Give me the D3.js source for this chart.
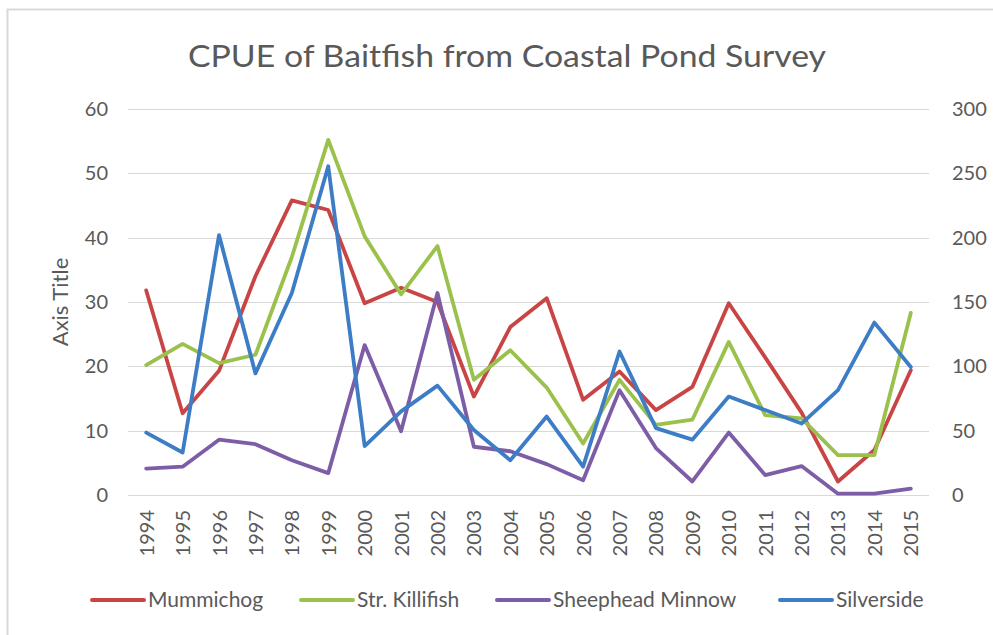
<!DOCTYPE html>
<html>
<head>
<meta charset="utf-8">
<script src="https://cdn.jsdelivr.net/npm/d3@7"></script>
<style>
  html, body { margin: 0; padding: 0; background: #fff; }
  svg { display: block; }
  text { font-family: Lato, "Open Sans", sans-serif; fill: #595959; }
</style>
</head>
<body>
<svg id="chart" width="993" height="635"></svg>
<script>
const years = ["1994","1995","1996","1997","1998","1999","2000","2001","2002","2003","2004","2005","2006","2007","2008","2009","2010","2011","2012","2013","2014","2015"];
const mummichog = [31.8,12.7,19.3,34.0,45.8,44.3,29.8,32.2,30.0,15.3,26.1,30.6,14.8,19.2,13.2,16.8,29.8,21.4,12.8,2.1,7.0,19.4];
const killifish = [20.2,23.5,20.5,21.8,37.0,55.2,40.2,31.2,38.7,17.9,22.5,16.7,8.0,17.9,10.9,11.7,23.8,12.4,11.9,6.2,6.2,28.3];
const sheephead = [4.1,4.4,8.6,7.9,5.4,3.4,23.3,9.9,31.4,7.5,6.8,4.8,2.3,16.3,7.3,2.1,9.7,3.1,4.5,0.2,0.2,1.0];
const silverside = [48.5,33,202,94.5,157,255.5,38,65,85,50.5,27,61,22,111.5,52,43,76.5,66,55.5,81.5,134,99.5];
const leftTicks = [0,10,20,30,40,50,60];
const rightTicks = [0,50,100,150,200,250,300];
const seriesNames = ["Mummichog","Str. Killifish","Sheephead Minnow","Silverside"];
const colors = ["#C94545","#9BC14D","#7E5DA7","#3D7DC6"];

const svg = d3.select("#chart");

// chart border
svg.append("rect").attr("x", 7.5).attr("y", 9.5).attr("width", 1000).attr("height", 700)
  .attr("fill", "#fff").attr("stroke", "#d9d9d9").attr("stroke-width", 2);

const x = d3.scalePoint().domain(years).range([128, 929]).padding(0.5);
const yL = d3.scaleLinear().domain([0, 60]).range([495, 109]);
const yR = d3.scaleLinear().domain([0, 300]).range([495, 109]);

// gridlines
svg.append("g").selectAll("line").data(leftTicks).join("line")
  .attr("x1", 128).attr("x2", 929)
  .attr("y1", d => Math.round(yL(d)) + 0.5).attr("y2", d => Math.round(yL(d)) + 0.5)
  .attr("stroke", "#d9d9d9").attr("stroke-width", 1.2);

// left axis
const gl = svg.append("g").attr("transform", "translate(128,0)")
  .call(d3.axisLeft(yL).tickValues(leftTicks).tickSize(0).tickPadding(20));
gl.select(".domain").remove();
gl.selectAll("text").style("font-size", "20px").attr("fill", "#595959").attr("font-family", "Lato");

// right axis
const gr = svg.append("g").attr("transform", "translate(929,0)")
  .call(d3.axisRight(yR).tickValues(rightTicks).tickSize(0).tickPadding(23));
gr.select(".domain").remove();
gr.selectAll("text").style("font-size", "20px").attr("fill", "#595959").attr("font-family", "Lato");

// bottom axis
const gb = svg.append("g").attr("transform", "translate(0,495)")
  .call(d3.axisBottom(x).tickSize(0));
gb.select(".domain").remove();
gb.selectAll("text")
  .style("font-size", "20px").attr("fill", "#595959").attr("font-family", "Lato")
  .attr("text-anchor", "end")
  .attr("transform", "translate(0,15) rotate(-90)")
  .attr("x", 0).attr("y", 0).attr("dy", "0.35em");

// axis title
svg.append("text").attr("transform", "translate(60,302) rotate(-90)")
  .attr("text-anchor", "middle").attr("dy", "0.35em")
  .style("font-size", "22px").text("Axis Title");

// title
svg.append("text").attr("x", 507).attr("y", 67).attr("text-anchor", "middle")
  .attr("textLength", 638).attr("lengthAdjust", "spacingAndGlyphs")
  .style("font-size", "31px").text("CPUE of Baitfish from Coastal Pond Survey");

// lines
const seriesData = [
  { vals: mummichog, scale: yL },
  { vals: killifish, scale: yL },
  { vals: sheephead, scale: yL },
  { vals: silverside, scale: yR }
];
seriesData.forEach((s, i) => {
  const line = d3.line().x((d, j) => x(years[j])).y(d => s.scale(d));
  svg.append("path").datum(s.vals).attr("d", line)
    .attr("fill", "none").attr("stroke", colors[i]).attr("stroke-width", 3.8)
    .attr("stroke-linejoin", "round").attr("stroke-linecap", "round");
});

// legend
const legendX = [92, 301, 497, 780];
const lg = svg.append("g");
seriesNames.forEach((name, i) => {
  lg.append("line").attr("x1", legendX[i]).attr("x2", legendX[i] + 52)
    .attr("y1", 600).attr("y2", 600).attr("stroke", colors[i]).attr("stroke-width", 4)
    .attr("stroke-linecap", "round");
  lg.append("text").attr("x", legendX[i] + 56).attr("y", 600).attr("dy", "0.35em")
    .style("font-size", "21px").text(name);
});
</script>
</body>
</html>
